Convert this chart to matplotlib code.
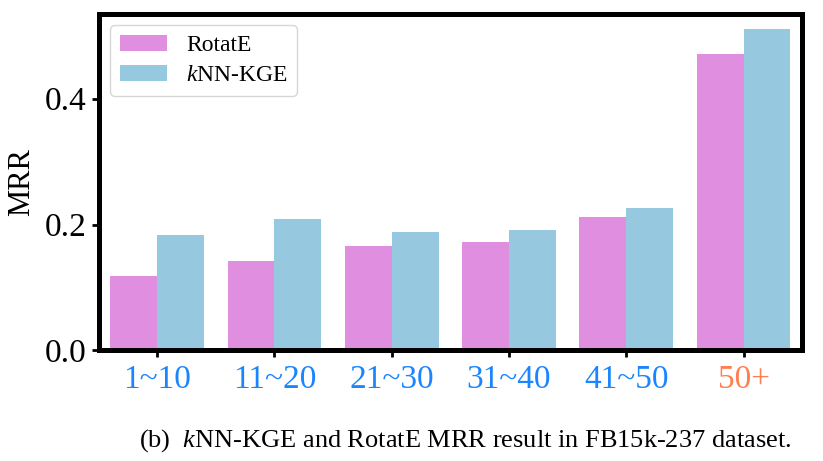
import numpy as np
import matplotlib
matplotlib.use('Agg')
import matplotlib.pyplot as plt

plt.rcParams['font.family'] = 'Liberation Serif'
plt.rcParams['mathtext.fontset'] = 'custom'
plt.rcParams['mathtext.rm'] = 'Liberation Serif'
plt.rcParams['mathtext.it'] = 'Liberation Serif:italic'

groups = ['1~10', '11~20', '21~30', '31~40', '41~50', '50+']
rotate = [0.118, 0.142, 0.166, 0.172, 0.212, 0.471]
knn = [0.184, 0.209, 0.188, 0.191, 0.226, 0.510]
label_colors = ['#1a85ff', '#1a85ff', '#1a85ff', '#1a85ff', '#1a85ff', '#ff7f50']

fig = plt.figure(figsize=(8.23, 4.61), dpi=100)
ax = fig.add_axes([0.1197, 0.2397, 0.855, 0.731])

x = np.arange(len(groups))
w = 0.4
ax.bar(x - w / 2, rotate, w, color='#e08fe0', label='RotatE')
ax.bar(x + w / 2, knn, w, color='#96c8df', label='$k$NN-KGE')

ax.set_xlim(-0.5, 5.5)
ax.set_ylim(0, 0.535)
ax.set_yticks([0.0, 0.2, 0.4])
ax.set_xticks(x)
ax.set_xticklabels(groups, fontsize=24)
for t, c in zip(ax.get_xticklabels(), label_colors):
    t.set_color(c)
ax.tick_params(axis='y', labelsize=24)
ax.tick_params(axis='x', pad=5)
ax.tick_params(width=2, length=5)
ax.set_ylabel('MRR', fontsize=22, labelpad=6)

for s in ax.spines.values():
    s.set_linewidth(3.6)

leg = ax.legend(loc='upper left', fontsize=17, handlelength=2.0,
                handletextpad=0.8, labelspacing=0.35, borderpad=0.4,
                framealpha=0.8, edgecolor='#cccccc')

fig.text(0.565, 0.045, '(b)  $k$NN-KGE and RotatE MRR result in FB15k-237 dataset.',
         ha='center', va='center', fontsize=19)

fig.savefig('out.png', dpi=100)
